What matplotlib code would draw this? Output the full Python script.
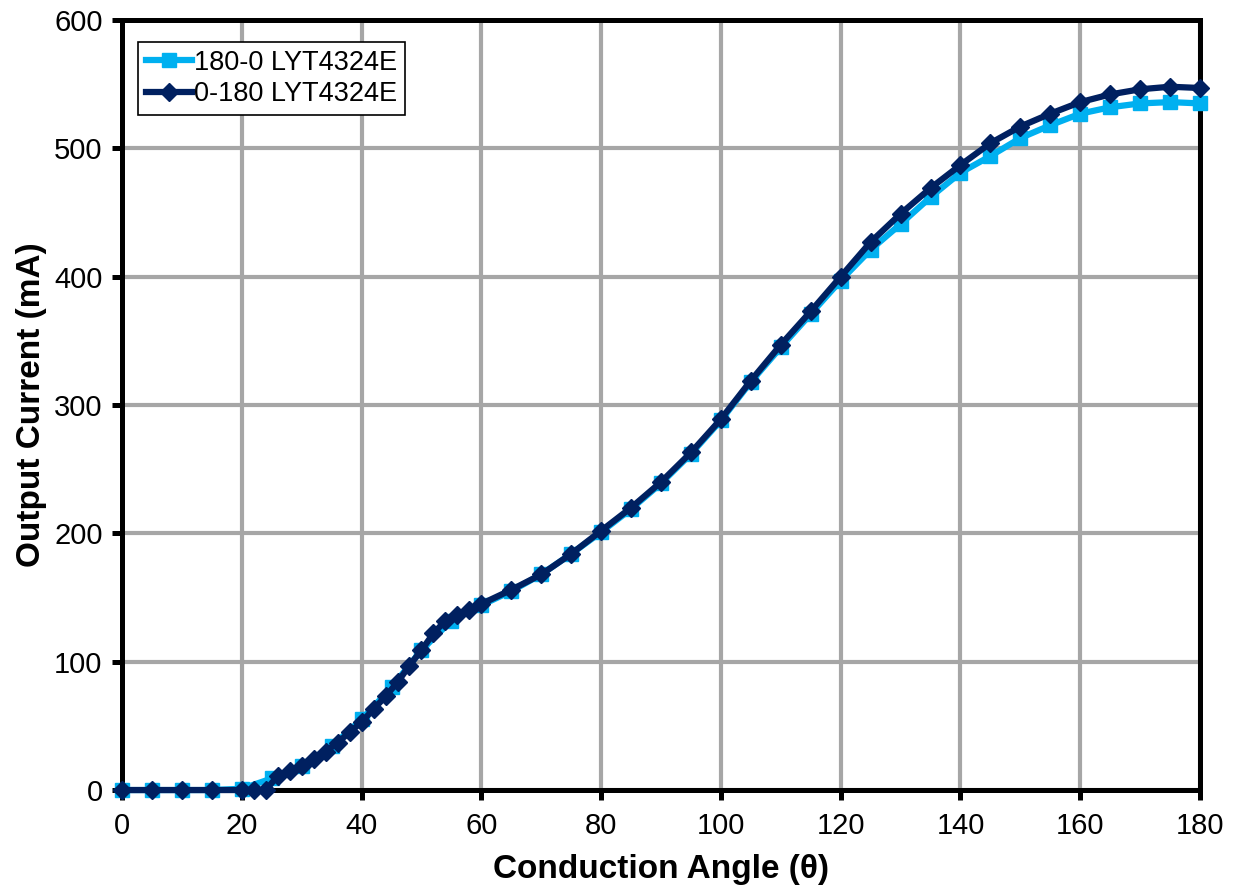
import numpy as np
import matplotlib
matplotlib.use("Agg")
import matplotlib.pyplot as plt

plt.rcParams['font.family'] = ['Liberation Sans', 'DejaVu Sans']

# 180-0 sweep (light blue, squares)
angle_down = [0, 5, 10, 15, 20, 25, 30, 35, 40, 45, 50, 55, 60, 65, 70, 75, 80, 85, 90,
              95, 100, 105, 110, 115, 120, 125, 130, 135, 140, 145, 150, 155, 160, 165,
              170, 175, 180]
current_down = [0, 0, 0, 0, 1, 9, 19, 34, 55, 80, 109, 132, 144, 155, 168, 184, 201, 219, 239,
                262, 288, 318, 345, 371, 397, 421, 441, 462, 481, 494, 508, 518, 527, 532,
                535, 536, 535]

# 0-180 sweep (dark navy, diamonds)
angle_up = [0, 5, 10, 15, 20, 22, 24, 26, 28, 30, 32, 34, 36, 38, 40, 42, 44, 46, 48, 50,
            52, 54, 56, 58, 60, 65, 70, 75, 80, 85, 90, 95, 100, 105, 110, 115, 120, 125,
            130, 135, 140, 145, 150, 155, 160, 165, 170, 175, 180]
current_up = [0, 0, 0, 0, 0, 0, 0, 11, 15, 19, 24, 30, 37, 45, 53, 63, 73, 84, 97, 109,
              122, 132, 136, 140, 145, 156, 168, 184, 202, 220, 240, 263, 289, 319, 347, 373, 400, 427,
              449, 469, 487, 504, 517, 527, 536, 542, 546, 548, 547]

fig = plt.figure(figsize=(12.35, 8.92), dpi=100)
ax = fig.add_axes([0.0988, 0.1143, 0.8729, 0.8633])

ax.plot(angle_down, current_down, color='#00B0F0', lw=4.5, marker='s', ms=10.5,
        label='180-0 LYT4324E', clip_on=False, zorder=3)
ax.plot(angle_up, current_up, color='#002060', lw=4.5, marker='D', ms=9.5,
        label='0-180 LYT4324E', clip_on=False, zorder=4)

ax.set_xlim(0, 180)
ax.set_ylim(0, 600)
ax.set_xticks(np.arange(0, 181, 20))
ax.set_yticks(np.arange(0, 601, 100))
ax.grid(True, color='#A6A6A6', lw=3)
ax.set_axisbelow(True)

for s in ax.spines.values():
    s.set_linewidth(3.6)
    s.set_color('black')
    s.set_zorder(2.5)
ax.tick_params(axis='both', direction='out', length=7, width=3.6, labelsize=21)
ax.tick_params(axis='x', pad=9)
ax.tick_params(axis='y', pad=7)

ax.set_xlabel('Conduction Angle (θ)', fontsize=24, fontweight='bold', labelpad=10)
ax.set_ylabel('Output Current (mA)', fontsize=24, fontweight='bold', labelpad=5)

leg = ax.legend(loc='upper left', bbox_to_anchor=(0.015, 0.972), fontsize=19.5,
                handlelength=1.7, handletextpad=0.05, borderpad=0.3, labelspacing=0.2,
                fancybox=False, framealpha=1, edgecolor='black', borderaxespad=0)
leg.get_frame().set_linewidth(1.2)

fig.savefig('out.png', dpi=100)
